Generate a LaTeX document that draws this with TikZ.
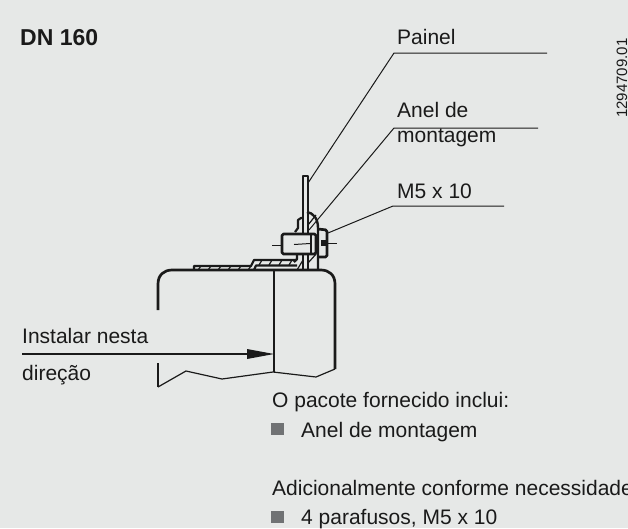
\documentclass[tikz,border=0pt]{standalone}
\usepackage{fontspec}
\setmainfont{Liberation Sans}
\definecolor{bg}{HTML}{E6E8E7}
\definecolor{ink}{HTML}{1A1A1A}
\definecolor{sq}{HTML}{707274}
\tikzset{
  lab/.style={inner sep=0pt,anchor=base west,font=\fontsize{21}{24}\selectfont,text=ink},
  lead/.style={draw=ink,line width=1pt},
  thick part/.style={draw=ink,line width=2.7pt,line join=round},
  mid part/.style={draw=ink,line width=2.2pt,line join=round},
  thin part/.style={draw=ink,line width=1.2pt,line join=round},
  hatch/.style={draw=ink,line width=1.2pt},
  bul/.style={fill=sq,minimum width=13pt,minimum height=12pt,inner sep=0pt,anchor=south west}
}
\begin{document}
\begin{tikzpicture}[x=1pt,y=-1pt]
\path[use as bounding box] (0,0) rectangle (628,528);
\begin{scope}
\clip (0,0) rectangle (628,528);
\fill[bg] (0,0) rectangle (628,528);
% texts
\node[lab,font=\fontsize{23}{26}\selectfont\bfseries] (dn) at (20,45) {DN 160};
\node[lab] (painel) at (397,44) {Painel};
\node[lab] (anel1) at (397,117) {Anel de};
\node[lab] (anel2) at (397,142) {montagem};
\node[lab] (m5) at (397,198) {M5 x 10};
\node[lab] (inst) at (22,343) {Instalar nesta};
\node[lab] (dir) at (22,380) {direção};
\node[lab] (pac) at (272,407) {O pacote fornecido inclui:};
\node[lab] (a3) at (301,437) {Anel de montagem};
\node[lab] (adic) at (272,495) {Adicionalmente conforme necessidade};
\node[lab] (par) at (301,524) {4 parafusos, M5 x 10};
\node[bul] (b1) at (271,435) {};
\node[bul] (b2) at (271,523) {};
\node[inner sep=0pt,anchor=base west,rotate=90,font=\fontsize{15}{16}\selectfont,text=ink] (code) at (627,118) {1294709.01};
% leaders
\coordinate (l1a) at (547,53); \coordinate (l1b) at (394,53); \coordinate (l1c) at (308,183);
\draw[lead] (l1a) -- (l1b) -- (l1c);
\coordinate (l2a) at (538,128); \coordinate (l2b) at (394,128); \coordinate (l2c) at (309,230);
\draw[lead] (l2a) -- (l2b) -- (l2c);
\coordinate (l3a) at (504,206); \coordinate (l3b) at (393,206); \coordinate (l3c) at (328,233);
\draw[lead] (l3a) -- (l3b) -- (l3c);
% body
\draw[thick part] (158,310) -- (158,284) .. controls (158,275) and (164,270) .. (172,270) -- (321,270) .. controls (329,270) and (335,275) .. (335,284) -- (335,369);
\draw[thick part] (274,270) -- (274,372);
\draw[thick part] (158,363) -- (158,387);
\draw[thin part] (158,387) -- (186,371) -- (222,379) -- (273,372) -- (316,377) -- (335,369);
% arrow
\draw[draw=ink,line width=2.6pt] (22,354) -- (250,354);
\fill[ink] (247,349) -- (274,354) -- (247,359) -- cycle;
% flange
\draw[mid part] (194,270) -- (194,266) -- (251,266) -- (254,260) -- (297,260);
\draw[mid part] (254,270) -- (256,265.5) -- (297,265.5);
\foreach \xa in {198,208,218,228,238,248}{\draw[hatch] (\xa,270) -- (\xa+3,266);}
\foreach \xa in {259,269,279,289}{\draw[hatch] (\xa,265) -- (\xa+3,260);}
% panel
\draw[mid part] (303,270) -- (303,176) -- (308,176) -- (308,270);
% ring
\draw[thick part,line width=2.4pt] (307,212) .. controls (313,213) and (318,218) .. (318,228) -- (318,270);
\draw[hatch] (308,225) -- (316,215);
\draw[hatch] (308,263) -- (317,253);
\draw[hatch] (297,270) -- (303,260);
% clip
\draw[mid part] (295,232) -- (298,228) -- (298,220) -- (301,218) -- (303,218);
\draw[mid part] (297,255) -- (297,259) -- (294,262);
% bolt
\fill[bg] (282,234) rectangle (317,254);
\draw[thick part,rounded corners=1.5pt] (282,234) rectangle (316,254);
\draw[mid part] (311,234) -- (311,254);
% washer head
\draw[thick part,rounded corners=1.5pt] (318,229) -- (327,230) -- (327,257) -- (318,257);
\fill[ink] (321,240) rectangle (326,246);
% axis
\draw[lead] (272,245) -- (282,245);
\draw[lead] (294,244.5) -- (310,243.5);
\draw[lead] (326,243) -- (337,243);
\end{scope}
\end{tikzpicture}
\end{document}
